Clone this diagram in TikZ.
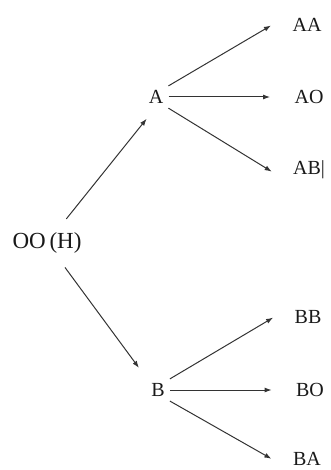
\documentclass[tikz,border=0pt]{standalone}
\usepackage{fontspec}
\setmainfont{Liberation Serif}
\usepackage{tikz}
\usetikzlibrary{arrows.meta,positioning}

\begin{document}
\begin{tikzpicture}[
  x=1pt, y=-1pt,
  geno/.style={font=\fontsize{20}{24}\selectfont, text=black!90, inner sep=3.3pt},
  root/.style={font=\fontsize{23}{27}\selectfont, text=black!90, inner sep=3.3pt},
  arr/.style={-{Latex[length=7pt,width=5pt]}, draw=black!80, line width=1pt, shorten <=2pt, shorten >=21pt},
  rarr/.style={arr, shorten <=13pt, shorten >=15pt},
  on grid
]
\useasboundingbox (0,0) rectangle (330,470);

% Parent
\node[root] (oo) at (47,243) {OO\,(H)};

% Gametes
\node[geno, above right=146pt and 109pt of oo] (A) {A};
\node[geno, below right=147pt and 111pt of oo] (B) {B};

% Offspring
\node[geno, above right=72pt and 151pt of A] (AA) {AA};
\node[geno, right=153pt of A] (AO) {AO};
\node[geno, below right=73pt and 153pt of A] (AB) {AB|};
\node[geno, above right=73pt and 150pt of B] (BB) {BB};
\node[geno, right=152pt of B] (BO) {BO};
\node[geno, below right=69pt and 149pt of B] (BA) {BA};

% Arrows
\draw[rarr] (oo) -- (A.south);
\draw[rarr] (oo) -- (B.north west);
\draw[arr] (A.north east) -- (AA.north west);
\draw[arr] (A.east) -- (AO.west);
\draw[arr] (A.south east) -- (AB.south west);
\draw[arr] (B.north east) -- (BB.north west);
\draw[arr] (B.east) -- (BO.west);
\draw[arr] (B.south east) -- (BA.south west);
\end{tikzpicture}
\end{document}
